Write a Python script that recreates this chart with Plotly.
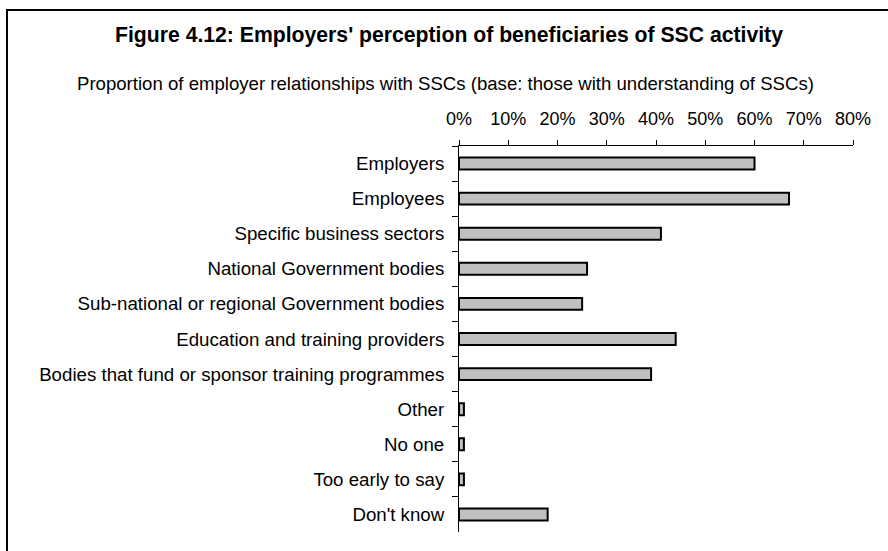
import plotly.graph_objects as go

# Survey categories (top to bottom) and share of employer relationships
categories = [
    "Employers",
    "Employees",
    "Specific business sectors",
    "National Government bodies",
    "Sub-national or regional Government bodies",
    "Education and training providers",
    "Bodies that fund or sponsor training programmes",
    "Other",
    "No one",
    "Too early to say",
    "Don't know",
]
shares = [0.60, 0.67, 0.41, 0.26, 0.25, 0.44, 0.39, 0.01, 0.01, 0.01, 0.18]
x_tick_values = [0.0, 0.1, 0.2, 0.3, 0.4, 0.5, 0.6, 0.7, 0.8]
x_tick_labels = ["0%", "10%", "20%", "30%", "40%", "50%", "60%", "70%", "80%"]

title_text = "Figure 4.12: Employers' perception of beneficiaries of SSC activity"
subtitle_text = ("Proportion of employer relationships with SSCs "
                 "(base: those with understanding of SSCs)")

W, H = 888, 551
M_L, M_R, M_T, M_B = 459, 35, 146, 19
FONT = "Arial, 'Liberation Sans', sans-serif"


def px_x(x):
    return (x - M_L) / (W - M_L - M_R)


def px_y(y):
    return (H - M_B - y) / (H - M_T - M_B)


fig = go.Figure(
    go.Bar(
        x=shares,
        y=categories,
        orientation="h",
        width=0.34,
        marker=dict(color="#c0c0c0", line=dict(color="#000000", width=2)),
        hoverinfo="x+y",
    )
)

fig.update_layout(
    width=W,
    height=H,
    autosize=False,
    margin=dict(l=M_L, r=M_R, t=M_T, b=M_B, pad=0),
    paper_bgcolor="#ffffff",
    plot_bgcolor="#ffffff",
    showlegend=False,
    font=dict(family=FONT, size=18, color="#000000"),
    xaxis=dict(
        side="top",
        range=[0, 0.8],
        tickvals=x_tick_values,
        ticktext=x_tick_labels,
        showgrid=False,
        zeroline=False,
        showline=True,
        linecolor="#000000",
        linewidth=1,
        ticks="outside",
        ticklen=5,
        tickcolor="#000000",
        tickfont=dict(size=18),
        ticklabelstandoff=8,
        fixedrange=True,
    ),
    yaxis=dict(
        autorange="reversed",
        showgrid=False,
        zeroline=False,
        showline=True,
        linecolor="#000000",
        linewidth=1,
        ticks="outside",
        tickson="boundaries",
        ticklen=6,
        tickcolor="#000000",
        tickfont=dict(size=18.7),
        ticklabelstandoff=10,
        fixedrange=True,
    ),
    annotations=[
        dict(
            text=f"<b>{title_text}</b>",
            xref="paper", yref="paper",
            x=px_x(449), y=px_y(35),
            xanchor="center", yanchor="middle",
            showarrow=False,
            font=dict(size=21.2),
        ),
        dict(
            text=subtitle_text,
            xref="paper", yref="paper",
            x=px_x(445), y=px_y(83),
            xanchor="center", yanchor="middle",
            showarrow=False,
            font=dict(size=18.6),
        ),
    ],
    shapes=[
        # open frame around the figure: left and top edges
        dict(type="line", xref="paper", yref="paper",
             x0=px_x(7), x1=px_x(7), y0=px_y(10), y1=px_y(600),
             line=dict(color="#000000", width=2)),
        dict(type="line", xref="paper", yref="paper",
             x0=px_x(6), x1=px_x(950), y0=px_y(10), y1=px_y(10),
             line=dict(color="#000000", width=2)),
    ],
)

fig.write_html("out.html")
